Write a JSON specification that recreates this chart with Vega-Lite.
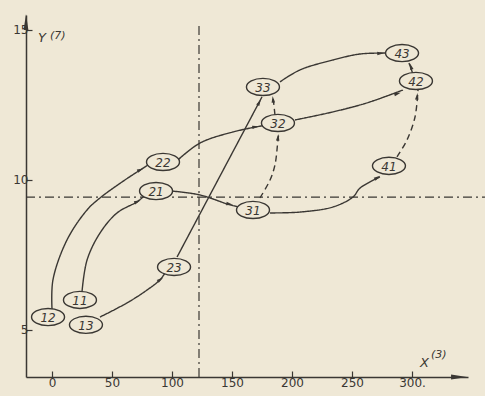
{
  "$schema": "https://vega.github.io/schema/vega-lite/v6.json",
  "width": 442,
  "height": 362,
  "autosize": {"type": "none"},
  "padding": {"left": 26, "top": 15, "right": 17, "bottom": 19},
  "background": "#efe8d6",
  "config": {
    "view": {"stroke": null},
    "font": "DejaVu Sans",
    "axis": {
      "grid": false,
      "domainColor": "#3a3733",
      "domainWidth": 1.5,
      "tickColor": "#3a3733",
      "tickWidth": 1.2,
      "tickSize": -6,
      "labelColor": "#3a3733",
      "labelFont": "DejaVu Sans",
      "labelFontSize": 12,
      "title": null
    }
  },
  "datasets": {
    "nodes": [
      {"node": "12", "x": -3.3, "y": 5.43},
      {"node": "11", "x": 23.3, "y": 6.0},
      {"node": "13", "x": 28.3, "y": 5.17},
      {"node": "23", "x": 101.7, "y": 7.1},
      {"node": "21", "x": 86.7, "y": 9.63},
      {"node": "22", "x": 92.5, "y": 10.6},
      {"node": "31", "x": 167.5, "y": 9.0},
      {"node": "32", "x": 188.3, "y": 11.9},
      {"node": "33", "x": 175.8, "y": 13.1},
      {"node": "41", "x": 280.8, "y": 10.47},
      {"node": "42", "x": 303.3, "y": 13.3},
      {"node": "43", "x": 291.7, "y": 14.23}
    ],
    "edges": [
      {"edge": "12-22", "link": "direct", "seq": 1, "x": 0, "y": 5.7},
      {"edge": "12-22", "link": "direct", "seq": 2, "x": 0.8, "y": 6.67},
      {"edge": "12-22", "link": "direct", "seq": 3, "x": 12.5, "y": 8.0},
      {"edge": "12-22", "link": "direct", "seq": 4, "x": 29.2, "y": 9.0},
      {"edge": "12-22", "link": "direct", "seq": 5, "x": 40, "y": 9.4},
      {"edge": "12-22", "link": "direct", "seq": 6, "x": 60.8, "y": 10.0},
      {"edge": "12-22", "link": "direct", "seq": 7, "x": 80, "y": 10.5},
      {"edge": "11-21", "link": "direct", "seq": 1, "x": 25, "y": 6.27},
      {"edge": "11-21", "link": "direct", "seq": 2, "x": 29.2, "y": 7.33},
      {"edge": "11-21", "link": "direct", "seq": 3, "x": 40, "y": 8.23},
      {"edge": "11-21", "link": "direct", "seq": 4, "x": 54.2, "y": 8.9},
      {"edge": "11-21", "link": "direct", "seq": 5, "x": 70.8, "y": 9.27},
      {"edge": "11-21", "link": "direct", "seq": 6, "x": 75.8, "y": 9.43},
      {"edge": "13-23", "link": "direct", "seq": 1, "x": 40, "y": 5.43},
      {"edge": "13-23", "link": "direct", "seq": 2, "x": 62.5, "y": 5.9},
      {"edge": "13-23", "link": "direct", "seq": 3, "x": 79.2, "y": 6.33},
      {"edge": "13-23", "link": "direct", "seq": 4, "x": 90, "y": 6.67},
      {"edge": "13-23", "link": "direct", "seq": 5, "x": 94.2, "y": 6.9},
      {"edge": "23-33", "link": "direct", "seq": 1, "x": 104.2, "y": 7.43},
      {"edge": "23-33", "link": "direct", "seq": 2, "x": 175, "y": 12.77},
      {"edge": "21-31", "link": "direct", "seq": 1, "x": 100, "y": 9.63},
      {"edge": "21-31", "link": "direct", "seq": 2, "x": 123.3, "y": 9.5},
      {"edge": "21-31", "link": "direct", "seq": 3, "x": 148.3, "y": 9.17},
      {"edge": "21-31", "link": "direct", "seq": 4, "x": 156.7, "y": 9.1},
      {"edge": "22-32", "link": "direct", "seq": 1, "x": 105, "y": 10.67},
      {"edge": "22-32", "link": "direct", "seq": 2, "x": 123.3, "y": 11.23},
      {"edge": "22-32", "link": "direct", "seq": 3, "x": 150.8, "y": 11.6},
      {"edge": "22-32", "link": "direct", "seq": 4, "x": 178.3, "y": 11.83},
      {"edge": "31-41", "link": "direct", "seq": 1, "x": 181.7, "y": 8.9},
      {"edge": "31-41", "link": "direct", "seq": 2, "x": 206.7, "y": 8.93},
      {"edge": "31-41", "link": "direct", "seq": 3, "x": 234.2, "y": 9.1},
      {"edge": "31-41", "link": "direct", "seq": 4, "x": 250.8, "y": 9.43},
      {"edge": "31-41", "link": "direct", "seq": 5, "x": 256.7, "y": 9.73},
      {"edge": "31-41", "link": "direct", "seq": 6, "x": 273.3, "y": 10.1},
      {"edge": "31-32", "link": "indirect", "seq": 1, "x": 173.3, "y": 9.4},
      {"edge": "31-32", "link": "indirect", "seq": 2, "x": 181.7, "y": 10.0},
      {"edge": "31-32", "link": "indirect", "seq": 3, "x": 185.8, "y": 10.5},
      {"edge": "31-32", "link": "indirect", "seq": 4, "x": 188.3, "y": 11.33},
      {"edge": "31-32", "link": "indirect", "seq": 5, "x": 189.2, "y": 11.63},
      {"edge": "32-33", "link": "indirect", "seq": 1, "x": 185.8, "y": 12.17},
      {"edge": "32-33", "link": "indirect", "seq": 2, "x": 184.2, "y": 12.77},
      {"edge": "32-42", "link": "direct", "seq": 1, "x": 202.5, "y": 12.0},
      {"edge": "32-42", "link": "direct", "seq": 2, "x": 234.2, "y": 12.27},
      {"edge": "32-42", "link": "direct", "seq": 3, "x": 262.5, "y": 12.57},
      {"edge": "32-42", "link": "direct", "seq": 4, "x": 292.5, "y": 13.0},
      {"edge": "33-43", "link": "direct", "seq": 1, "x": 190, "y": 13.27},
      {"edge": "33-43", "link": "direct", "seq": 2, "x": 206.7, "y": 13.67},
      {"edge": "33-43", "link": "direct", "seq": 3, "x": 234.2, "y": 14.0},
      {"edge": "33-43", "link": "direct", "seq": 4, "x": 256.7, "y": 14.2},
      {"edge": "33-43", "link": "direct", "seq": 5, "x": 280, "y": 14.23},
      {"edge": "41-42", "link": "indirect", "seq": 1, "x": 287.5, "y": 10.77},
      {"edge": "41-42", "link": "indirect", "seq": 2, "x": 295.8, "y": 11.33},
      {"edge": "41-42", "link": "indirect", "seq": 3, "x": 302.5, "y": 12.1},
      {"edge": "41-42", "link": "indirect", "seq": 4, "x": 305, "y": 13.0},
      {"edge": "42-43", "link": "direct", "seq": 1, "x": 300.8, "y": 13.53},
      {"edge": "42-43", "link": "direct", "seq": 2, "x": 297.5, "y": 13.9}
    ],
    "heads": [
      {"edge": "12-22", "x": 73.3, "y": 10.33, "heading": 68},
      {"edge": "11-21", "x": 70.8, "y": 9.27, "heading": 67},
      {"edge": "13-23", "x": 90, "y": 6.67, "heading": 55},
      {"edge": "23-33", "x": 172.5, "y": 12.57, "heading": 28},
      {"edge": "21-31", "x": 147.5, "y": 9.2, "heading": 101},
      {"edge": "22-32", "x": 169.2, "y": 11.77, "heading": 79},
      {"edge": "31-41", "x": 270.8, "y": 10.07, "heading": 59},
      {"edge": "31-32", "x": 188.3, "y": 11.4, "heading": 6},
      {"edge": "32-33", "x": 184.2, "y": 12.67, "heading": -6},
      {"edge": "32-42", "x": 287.5, "y": 12.87, "heading": 73},
      {"edge": "33-43", "x": 273.3, "y": 14.22, "heading": 87},
      {"edge": "41-42", "x": 304.2, "y": 12.77, "heading": 6},
      {"edge": "42-43", "x": 299.2, "y": 13.77, "heading": -18}
    ],
    "refs": [
      {"x": -21.67, "x2": 360.8, "y": 9.43, "y2": 9.43},
      {"x": 122.5, "x2": 122.5, "y": 3.43, "y2": 15.2}
    ],
    "axisArrows": [
      {"x": -21.67, "y": 15.27, "heading": 0},
      {"x": 339.2, "y": 3.43, "heading": 90}
    ],
    "titles": [
      {"text": "Y", "role": "main", "x": -11.7, "y": 14.6},
      {"text": "(7)", "role": "sup", "x": -1.7, "y": 14.7},
      {"text": "X", "role": "main", "x": 306.7, "y": 3.77},
      {"text": "(3)", "role": "sup", "x": 315.8, "y": 4.07}
    ]
  },
  "encoding": {
    "x": {"field": "x", "type": "quantitative",
      "scale": {"domain": [-21.67, 346.67], "nice": false, "zero": false},
      "axis": {"values": [0, 50, 100, 150, 200, 250, 300], "labelPadding": 6,
               "labelExpr": "datum.value == 300 ? '300.' : datum.label"}},
    "y": {"field": "y", "type": "quantitative",
      "scale": {"domain": [3.43, 15.5], "nice": false, "zero": false},
      "axis": {"values": [5, 10, 15], "labelPadding": 4}}
  },
  "layer": [
    {
      "data": {"name": "refs"},
      "mark": {"type": "rule", "color": "#3a3733", "strokeWidth": 1.2, "strokeDash": [9, 4, 2, 4], "clip": false},
      "encoding": {
        "x2": {"field": "x2"},
        "y2": {"field": "y2"}
      }
    },
    {
      "data": {"name": "edges"},
      "mark": {"type": "line", "color": "#3a3733", "strokeWidth": 1.4, "interpolate": "catmull-rom"},
      "encoding": {
        "detail": {"field": "edge"},
        "order": {"field": "seq", "type": "quantitative"},
        "strokeDash": {"field": "link", "type": "nominal",
          "scale": {"domain": ["direct", "indirect"], "range": [[1, 0], [6, 4]]}, "legend": null}
      }
    },
    {
      "data": {"name": "heads"},
      "mark": {"type": "point", "shape": "M0,-1L0.45,0.7L-0.45,0.7Z", "filled": true, "color": "#3a3733", "size": 60, "opacity": 1},
      "encoding": {
        "angle": {"field": "heading", "type": "quantitative", "scale": null}
      }
    },
    {
      "data": {"name": "nodes"},
      "mark": {"type": "point", "shape": "M-1,0A1,0.52,0,1,1,1,0A1,0.52,0,1,1,-1,0Z", "filled": false, "fill": "#efe8d6", "fillOpacity": 1, "stroke": "#3a3733", "strokeWidth": 1.4, "size": 1089, "opacity": 1},
      "encoding": {}
    },
    {
      "data": {"name": "nodes"},
      "mark": {"type": "text", "font": "DejaVu Sans", "fontStyle": "italic", "fontSize": 12, "color": "#3a3733", "baseline": "middle", "align": "center", "dy": 1},
      "encoding": {
        "text": {"field": "node"}
      }
    },
    {
      "data": {"name": "titles"},
      "transform": [{"filter": "datum.role == 'main'"}],
      "mark": {"type": "text", "font": "DejaVu Sans", "fontStyle": "italic", "fontSize": 13, "color": "#3a3733", "baseline": "alphabetic", "align": "left", "clip": false},
      "encoding": {
        "text": {"field": "text"}
      }
    },
    {
      "data": {"name": "titles"},
      "transform": [{"filter": "datum.role == 'sup'"}],
      "mark": {"type": "text", "font": "DejaVu Sans", "fontStyle": "italic", "fontSize": 11, "color": "#3a3733", "baseline": "alphabetic", "align": "left", "clip": false},
      "encoding": {
        "text": {"field": "text"}
      }
    },
    {
      "data": {"name": "axisArrows"},
      "mark": {"type": "point", "shape": "M0,-1L0.3,1L-0.3,1Z", "filled": true, "color": "#3a3733", "size": 256, "opacity": 1, "clip": false},
      "encoding": {
        "angle": {"field": "heading", "type": "quantitative", "scale": null}
      }
    }
  ]
}
